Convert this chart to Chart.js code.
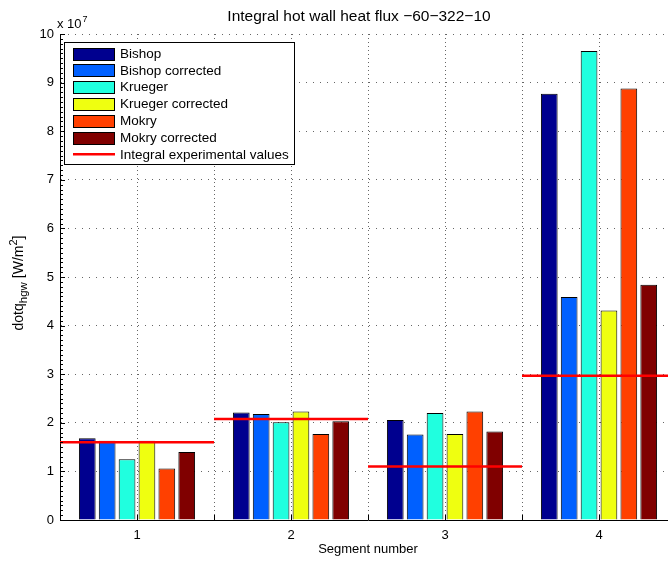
<!DOCTYPE html>
<html>
<head>
<meta charset="utf-8">
<script src="https://cdn.jsdelivr.net/npm/chart.js@4/dist/chart.umd.min.js"></script>
<style>
  html, body { margin: 0; padding: 0; background: #fff; width: 668px; height: 561px; overflow: hidden; }
  #wrap { position: absolute; left: 0; top: 0; width: 680px; height: 561px; }
</style>
</head>
<body>
<div id="wrap"><canvas id="c" width="680" height="561"></canvas></div>
<script>
// Segment numbers along the x axis
const segments = [1, 2, 3, 4];

// Integral hot wall heat flux per segment, in units of 1e7 W/m^2
const bishop           = [1.68, 2.21, 2.06, 8.77];
const bishopCorrected  = [1.63, 2.18, 1.76, 4.59];
const krueger          = [1.25, 2.01, 2.20, 9.65];
const kruegerCorrected = [1.63, 2.23, 1.77, 4.31];
const mokry            = [1.06, 1.77, 2.23, 8.88];
const mokryCorrected   = [1.40, 2.03, 1.82, 4.84];
const experimental     = [1.60, 2.08, 1.10, 2.97];

const seriesNames = ['Bishop', 'Bishop corrected', 'Krueger', 'Krueger corrected', 'Mokry', 'Mokry corrected'];
const seriesColors = ['#00008f', '#0060ff', '#20ffdf', '#efff10', '#ff4000', '#800000'];
const experimentalName = 'Integral experimental values';
const titleText = 'Integral hot wall heat flux \u221260\u2212322\u221210';
const xTitle = 'Segment number';

// y tick values (x 1e7)
const yTicks = [0, 1, 2, 3, 4, 5, 6, 7, 8, 9, 10];

const FONT = '"Liberation Sans", Arial, Helvetica, sans-serif';

const barSeries = [bishop, bishopCorrected, krueger, kruegerCorrected, mokry, mokryCorrected];
const barDatasets = barSeries.map((vals, i) => ({
  type: 'bar',
  label: seriesNames[i],
  data: segments.map((s, j) => ({ x: s, y: vals[j] })),
  backgroundColor: seriesColors[i],
  borderColor: '#000',
  borderWidth: 1,
  categoryPercentage: 0.775,
  barPercentage: 0.84,
  order: 2
}));

// Each experimental value spans its whole segment (segment s covers s-0.5 .. s+0.5)
const expPoints = [];
experimental.forEach((v, i) => {
  const s = segments[i];
  expPoints.push({ x: s - 0.5, y: v }, { x: s + 0.5, y: v }, { x: s + 0.5, y: null });
});

const lineDataset = {
  type: 'line',
  label: experimentalName,
  data: expPoints,
  borderColor: '#ff0000',
  borderWidth: 2.5,
  pointRadius: 0,
  spanGaps: false,
  order: 0
};

const GRID_COLOR = 'rgba(0,0,0,0.6)';

// Vertical dotted grid at every half segment, drawn behind the bars
const halfGrid = {
  id: 'halfGrid',
  beforeDatasetsDraw(chart) {
    const ctx = chart.ctx;
    const xs = chart.scales.x;
    const area = chart.chartArea;
    ctx.save();
    ctx.strokeStyle = GRID_COLOR;
    ctx.lineWidth = 1;
    ctx.setLineDash([1, 3]);
    for (let v = xs.min + 0.5; v < xs.max; v += 0.5) {
      const px = Math.round(xs.getPixelForValue(v)) + 0.5;
      ctx.beginPath();
      ctx.moveTo(px, area.top);
      ctx.lineTo(px, area.bottom);
      ctx.stroke();
    }
    ctx.restore();
  }
};

// MATLAB-style decorations: inward ticks, legend box, title and axis label with sub/superscripts
const matlabDecor = {
  id: 'matlabDecor',
  afterDraw(chart) {
    const ctx = chart.ctx;
    const ya = chart.scales.y;
    const xs = chart.scales.x;
    const area = chart.chartArea;
    ctx.save();
    ctx.strokeStyle = '#000';
    ctx.lineWidth = 1;
    // y ticks: major at integers, minor every 0.1
    for (let k = 0; k <= 100; k++) {
      const py = Math.round(ya.getPixelForValue(k / 10)) + 0.5;
      const len = (k % 10 === 0) ? 5 : 3;
      ctx.beginPath();
      ctx.moveTo(area.left, py);
      ctx.lineTo(area.left + len, py);
      ctx.stroke();
    }
    // x ticks at every half segment
    for (let v = xs.min + 0.5; v < xs.max; v += 0.5) {
      const px = Math.round(xs.getPixelForValue(v)) + 0.5;
      ctx.beginPath();
      ctx.moveTo(px, area.bottom);
      ctx.lineTo(px, area.bottom - 5);
      ctx.stroke();
    }

    // title
    ctx.fillStyle = '#000';
    ctx.textAlign = 'center';
    ctx.textBaseline = 'middle';
    ctx.font = '15.5px ' + FONT;
    ctx.fillText(titleText, 359, 17);

    // exponent label above the y axis
    ctx.textBaseline = 'alphabetic';
    ctx.textAlign = 'left';
    ctx.font = '13px ' + FONT;
    const base = 'x 10';
    ctx.fillText(base, 57, 28);
    const bw = ctx.measureText(base).width;
    ctx.font = '9px ' + FONT;
    ctx.fillText('7', 57 + bw + 1, 22);

    // y axis title: dotq_hgw [W/m^2]
    const parts = [
      { t: 'dotq', f: 14, dy: 0 },
      { t: 'hgw', f: 11.5, dy: 3.5 },
      { t: ' [W/m', f: 14, dy: 0 },
      { t: '2', f: 11, dy: -6 },
      { t: ']', f: 14, dy: 0 }
    ];
    let total = 0;
    parts.forEach(p => { ctx.font = p.f + 'px ' + FONT; p.w = ctx.measureText(p.t).width; total += p.w; });
    ctx.save();
    ctx.translate(23, 283);
    ctx.rotate(-Math.PI / 2);
    let cx = -total / 2;
    parts.forEach(p => {
      ctx.font = p.f + 'px ' + FONT;
      ctx.fillText(p.t, cx, p.dy);
      cx += p.w;
    });
    ctx.restore();

    // legend box
    const lx = 64.5, ly = 42.5, lw = 230, lh = 122;
    ctx.fillStyle = '#fff';
    ctx.fillRect(lx, ly, lw, lh);
    ctx.strokeStyle = '#000';
    ctx.lineWidth = 1;
    ctx.strokeRect(lx, ly, lw, lh);
    ctx.font = '13.5px ' + FONT;
    ctx.textBaseline = 'middle';
    chart.data.datasets.forEach((ds, i) => {
      const cy = 53.5 + i * 16.8;
      if (ds.type === 'bar') {
        ctx.fillStyle = ds.backgroundColor;
        ctx.fillRect(73.5, Math.round(cy - 6) + 0.5, 41, 12);
        ctx.strokeStyle = '#000';
        ctx.strokeRect(73.5, Math.round(cy - 6) + 0.5, 41, 12);
      } else {
        ctx.strokeStyle = ds.borderColor;
        ctx.lineWidth = 2.5;
        ctx.beginPath();
        ctx.moveTo(73, cy);
        ctx.lineTo(115, cy);
        ctx.stroke();
        ctx.lineWidth = 1;
      }
      ctx.fillStyle = '#000';
      ctx.fillText(ds.label, 120, cy + 0.5);
    });
    ctx.restore();
  }
};

new Chart(document.getElementById('c'), {
  type: 'bar',
  data: {
    datasets: [...barDatasets, lineDataset]
  },
  options: {
    responsive: false,
    animation: false,
    layout: { padding: { left: 0, right: 4, top: 34, bottom: 0 } },
    plugins: {
      legend: { display: false },
      tooltip: { enabled: false },
      title: { display: false }
    },
    scales: {
      x: {
        type: 'linear',
        position: 'bottom',
        min: 0.5,
        max: 4.5,
        offset: false,
        afterBuildTicks(scale) { scale.ticks = segments.map(v => ({ value: v })); },
        grid: { display: false, drawTicks: false, offset: false },
        border: { display: true, color: '#000', width: 1 },
        ticks: {
          color: '#000',
          font: { family: FONT, size: 13 },
          padding: 8,
          callback: v => String(v)
        },
        title: {
          display: true,
          text: xTitle,
          color: '#000',
          font: { family: FONT, size: 13 },
          padding: { top: 0, bottom: 4 }
        },
        afterFit(scale) { scale.height = 41; }
      },
      y: {
        type: 'linear',
        position: 'left',
        min: 0,
        max: 10,
        afterBuildTicks(scale) { scale.ticks = yTicks.map(v => ({ value: v })); },
        ticks: { color: '#000', font: { family: FONT, size: 13 }, padding: 6 },
        grid: { display: true, drawTicks: false, color: GRID_COLOR, lineWidth: 1 },
        border: { display: true, color: '#000', width: 1, dash: [1, 6] },
        afterFit(scale) { scale.width = 60; }
      }
    }
  },
  plugins: [halfGrid, matlabDecor]
});
</script>
</body>
</html>
